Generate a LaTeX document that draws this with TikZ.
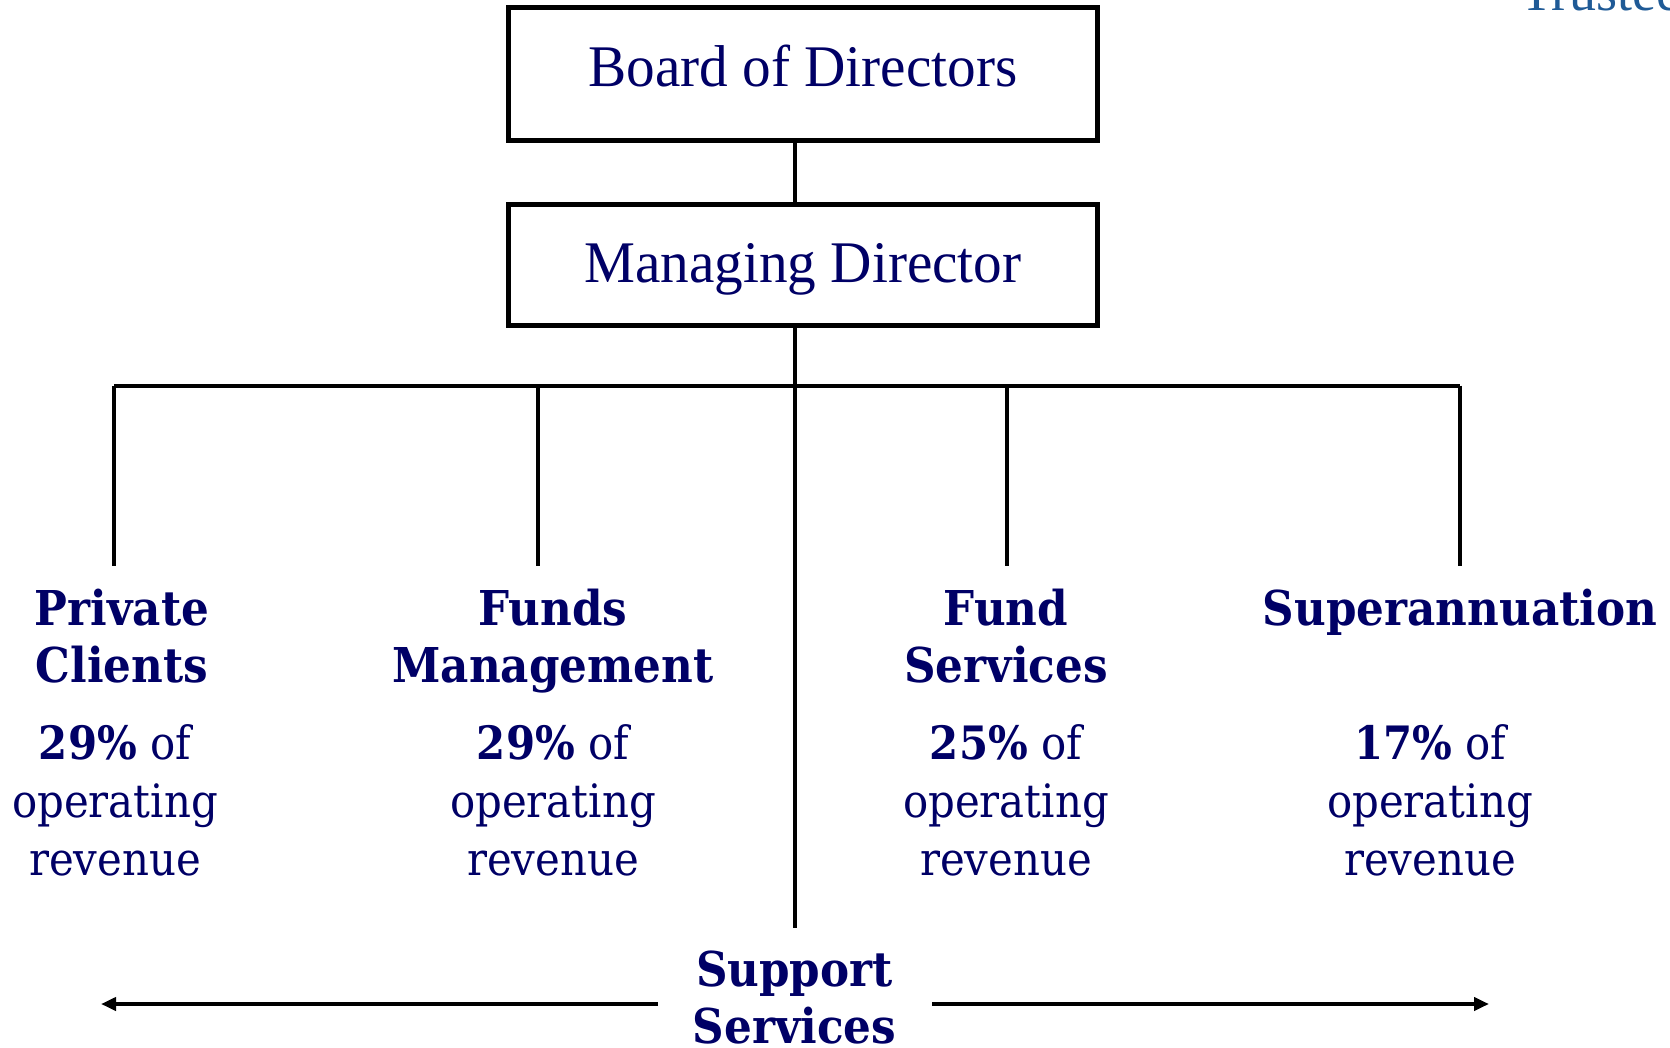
\documentclass[tikz,border=0pt]{standalone}
\usepackage{fontspec}
\setmainfont{Liberation Serif}
\newfontfamily\boxfont[FakeStretch=0.97]{Liberation Serif}
\newfontfamily\unitfont[FakeStretch=0.91]{DejaVu Serif}
\usetikzlibrary{arrows.meta}
\definecolor{navy}{HTML}{000066}
\definecolor{logoblue}{HTML}{1F5A96}
\begin{document}
\begin{tikzpicture}[x=1pt,y=-1pt,
    post/.style={draw,line width=5.5pt,minimum width=589pt,text=navy,
      text height=41pt,font=\boxfont\fontsize{59}{64}\selectfont},
    unit/.style={anchor=base,align=center,inner sep=0pt,text=navy,
      font=\unitfont\bfseries\fontsize{48}{57}\selectfont},
    share/.style={anchor=base,align=center,inner sep=0pt,text=navy,
      font=\unitfont\fontsize{46}{58}\selectfont},
    link/.style={line width=4pt},
    reach/.style={line width=4pt,-{Triangle[length=15pt,width=13pt]}}]
  \useasboundingbox (0,0) rectangle (1670,1048);
  \clip (0,0) rectangle (1670,1048);
  % logo, cut by the page edge
  \node[anchor=base west,inner sep=0pt,text=logoblue,
    font=\fontsize{54}{56}\selectfont] (logo) at (1520,11) {Trustee};
  % top of the chart
  \node[post,minimum height=133pt,text depth=15pt] (bd) at (803,74) {Board of Directors};
  \node[post,minimum height=121pt,text depth=5pt] (md) at (803,265) {Managing Director};
  \coordinate (spine) at (794.5,928);
  \coordinate (bus) at (794.5,385.5);
  \draw[link] (bd.south -| spine) -- (md.north -| spine);
  \draw[link] (md.south -| spine) -- (spine);
  % business units (base = last line)
  \node[unit] (pc) at (122,682) {Private\\Clients};
  \node[unit] (fm) at (553,682) {Funds\\Management};
  \node[unit] (fs) at (1006,682) {Fund\\Services};
  \node[unit] (su) at (1460,625) {Superannuation};
  \node[share] (pcs) at (115,875) {\textbf{29\%} of\\operating\\revenue};
  \node[share] (fms) at (553,875) {\textbf{29\%} of\\operating\\revenue};
  \node[share] (fss) at (1006,875) {\textbf{25\%} of\\operating\\revenue};
  \node[share] (sus) at (1430,875) {\textbf{17\%} of\\operating\\revenue};
  \coordinate (d1) at (114,565.5);
  \coordinate (d2) at (538,565.5);
  \coordinate (d3) at (1006.5,565.5);
  \coordinate (d4) at (1460,565.5);
  \draw[link] (d1 |- bus) -- (d4 |- bus);
  \foreach \d in {d1,d2,d3,d4}
    \draw[link] (\d |- bus) -- (\d);
  % support services
  \node[unit] (ss) at (794.5,1043) {Support\\Services};
  \coordinate (ssl) at (101,1004);
  \coordinate (ssr) at (1489,1004);
  \draw[reach] (658,1004) -- (ssl);
  \draw[reach] (932,1004) -- (ssr);
\end{tikzpicture}
\end{document}
